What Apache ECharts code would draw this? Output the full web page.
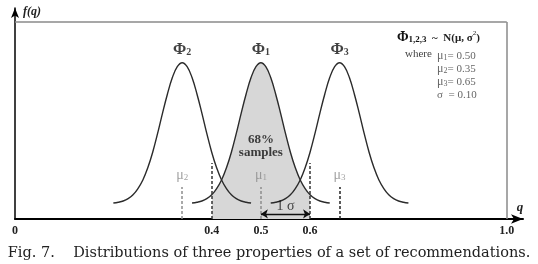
<!DOCTYPE html>
<html>
<head>
<meta charset="utf-8">
<script src="https://cdn.jsdelivr.net/npm/echarts@6/dist/echarts.min.js"></script>
<style>
  html, body { margin: 0; padding: 0; background: #fff; }
  #chart { width: 538px; height: 264px; }
</style>
</head>
<body>
<div id="chart"></div>
<script>
  // curves: q on the x axis, f(q) in the figure's own units (peak ~ 4)
  const phi2Q = [0.20, 0.21, 0.22, 0.23, 0.24, 0.25, 0.26, 0.27, 0.28, 0.29, 0.30, 0.31, 0.32, 0.33, 0.34,
                 0.35, 0.36, 0.37, 0.38, 0.39, 0.40, 0.41, 0.42, 0.43, 0.44, 0.45, 0.46, 0.47, 0.48]
  const phi2F = [0.41, 0.43, 0.46, 0.52, 0.62, 0.78, 1.00, 1.31, 1.71, 2.19, 2.71, 3.20, 3.62, 3.90, 4.00,
                 3.90, 3.62, 3.20, 2.71, 2.19, 1.71, 1.31, 1.00, 0.78, 0.62, 0.52, 0.46, 0.43, 0.41]
  const phi1Q = [0.36, 0.37, 0.38, 0.39, 0.40, 0.41, 0.42, 0.43, 0.44, 0.45, 0.46, 0.47, 0.48, 0.49, 0.50,
                 0.51, 0.52, 0.53, 0.54, 0.55, 0.56, 0.57, 0.58, 0.59, 0.60, 0.61, 0.62, 0.63, 0.64]
  const phi1F = [0.41, 0.43, 0.46, 0.52, 0.62, 0.78, 1.00, 1.31, 1.71, 2.19, 2.71, 3.20, 3.62, 3.90, 4.00,
                 3.90, 3.62, 3.20, 2.71, 2.19, 1.71, 1.31, 1.00, 0.78, 0.62, 0.52, 0.46, 0.43, 0.41]
  const phi3Q = [0.52, 0.53, 0.54, 0.55, 0.56, 0.57, 0.58, 0.59, 0.60, 0.61, 0.62, 0.63, 0.64, 0.65, 0.66,
                 0.67, 0.68, 0.69, 0.70, 0.71, 0.72, 0.73, 0.74, 0.75, 0.76, 0.77, 0.78, 0.79, 0.80]
  const phi3F = [0.41, 0.43, 0.46, 0.52, 0.62, 0.78, 1.00, 1.31, 1.71, 2.19, 2.71, 3.20, 3.62, 3.90, 4.00,
                 3.90, 3.62, 3.20, 2.71, 2.19, 1.71, 1.31, 1.00, 0.78, 0.62, 0.52, 0.46, 0.43, 0.41]

  // dashed guides
  const sigmaQ = [0.4, 0.6]      // edges of the shaded 68% band
  const sigmaTop = 1.43
  const muQ = [0.34, 0.50, 0.66] // mu2, mu1, mu3
  const muTop = 0.82
  const muDark = [false, false, true]

  const tickValues = [0, 0.4, 0.5, 0.6, 1.0]
  const tickText = ['0', '0.4', '0.5', '0.6', '1.0']

  const frameTop = 5.04
  const SERIF = '"Liberation Serif", "DejaVu Serif", serif'

  const pairs = (xs, ys) => xs.map((x, i) => [x, ys[i]])

  const curve = (name, q, f, extra) => Object.assign({
    name: name,
    type: 'line',
    data: pairs(q, f),
    smooth: 0.4,
    symbol: 'none',
    lineStyle: { color: '#2b2b2b', width: 1.4 },
    silent: true,
    z: 3
  }, extra)

  const chart = echarts.init(document.getElementById('chart'), null, { renderer: 'canvas' })

  chart.setOption({
    animation: false,
    backgroundColor: '#fff',
    title: {
      text: 'Fig. 7.    Distributions of three properties of a set of recommendations.',
      left: 'center',
      top: 241,
      textStyle: { fontFamily: '"DejaVu Serif", serif', fontWeight: 'normal', fontSize: 14.5, color: '#222' }
    },
    grid: { left: 15, right: 15, top: 8, bottom: 45 },
    xAxis: {
      type: 'value',
      min: 0,
      max: 1.033,
      interval: 0.1,
      splitLine: { show: false },
      axisTick: { show: false },
      axisLine: {
        lineStyle: { color: '#000', width: 2 },
        symbol: ['none', 'arrow'],
        symbolSize: [7, 12]
      },
      axisLabel: {
        margin: 6,
        fontFamily: SERIF,
        fontWeight: 'bold',
        fontSize: 12,
        color: '#222',
        formatter: function (v) {
          const i = tickValues.findIndex(t => Math.abs(t - v) < 1e-6)
          return i < 0 ? '' : tickText[i]
        }
      },
      name: 'q',
      nameLocation: 'end',
      nameGap: -3,
      nameTextStyle: {
        fontFamily: SERIF, fontStyle: 'italic', fontWeight: 'bold', fontSize: 13, color: '#222',
        align: 'center', verticalAlign: 'bottom', padding: [0, 0, 5, 0]
      }
    },
    yAxis: {
      type: 'value',
      min: 0,
      max: 5.4,
      splitLine: { show: false },
      axisTick: { show: false },
      axisLabel: { show: false },
      axisLine: {
        lineStyle: { color: '#000', width: 1.5 },
        symbol: ['none', 'arrow'],
        symbolSize: [6, 10]
      },
      name: 'f(q)',
      nameLocation: 'end',
      nameGap: -4,
      nameTextStyle: {
        fontFamily: SERIF, fontStyle: 'italic', fontWeight: 'bold', fontSize: 12, color: '#222',
        align: 'left', verticalAlign: 'middle', padding: [0, 0, 0, 8]
      }
    },
    visualMap: {
      type: 'piecewise',
      show: false,
      dimension: 0,
      seriesIndex: 0,
      pieces: [{ gte: sigmaQ[0], lte: sigmaQ[1], color: '#d7d7d7' }],
      outOfRange: { color: 'rgba(255,255,255,0)' }
    },
    series: [
      curve('Φ1', phi1Q, phi1F, { areaStyle: { opacity: 1 }, z: 2 }),
      curve('Φ2', phi2Q, phi2F),
      curve('Φ3', phi3Q, phi3F),
      {
        // frame (top and right edges)
        type: 'lines',
        coordinateSystem: 'cartesian2d',
        silent: true,
        lineStyle: { color: '#8a8a8a', width: 1.5, opacity: 1 },
        data: [
          { coords: [[0, frameTop], [1.0, frameTop]] },
          { coords: [[1.0, frameTop], [1.0, 0]] }
        ],
        z: 1
      },
      {
        // dashed guides at 0.4 / 0.6 and at the means
        type: 'lines',
        coordinateSystem: 'cartesian2d',
        silent: true,
        lineStyle: { width: 1.5, type: [3, 2], opacity: 1 },
        data: sigmaQ.map(q => ({ coords: [[q, 0], [q, sigmaTop]], lineStyle: { color: '#333' } }))
          .concat(muQ.map((q, i) => ({
            coords: [[q, 0], [q, muTop]],
            lineStyle: { color: muDark[i] ? '#222' : '#8c8c8c' }
          }))),
        z: 4
      },
      {
        // 1 sigma arrow
        type: 'lines',
        coordinateSystem: 'cartesian2d',
        silent: true,
        symbol: ['arrow', 'arrow'],
        symbolSize: 7,
        lineStyle: { color: '#111', width: 1.3, opacity: 1 },
        data: [{ coords: [[muQ[1], 0.13], [sigmaQ[1], 0.13]] }],
        z: 5
      },
      {
        // text labels placed in data space
        type: 'scatter',
        symbolSize: 0,
        silent: true,
        z: 6,
        label: { show: true, position: 'inside', fontFamily: SERIF, color: '#111' },
        data: [
          { value: [muQ[0], 4.33], label: { formatter: '{a|Φ}{s|2}' } },
          { value: [muQ[1], 4.33], label: { formatter: '{a|Φ}{s|1}' } },
          { value: [muQ[2], 4.33], label: { formatter: '{a|Φ}{s|3}' } },
          { value: [muQ[0], 1.12], label: { formatter: '{m|μ}{n|2}' } },
          { value: [muQ[1], 1.12], label: { formatter: '{m|μ}{n|1}' } },
          { value: [muQ[2], 1.12], label: { formatter: '{m|μ}{n|3}' } },
          { value: [muQ[1], 1.87], label: { formatter: '68%\nsamples', fontWeight: 'bold', fontSize: 13, lineHeight: 13 } },
          { value: [0.55, 0.33], label: { formatter: '1 σ', fontSize: 14 } }
        ],
        labelLayout: { hideOverlap: false }
      }
    ].map(s => {
      if (s.type === 'scatter') {
        s.label.rich = {
          a: { fontFamily: SERIF, fontSize: 16, fontWeight: 'bold', color: '#111', verticalAlign: 'bottom' },
          s: { fontFamily: SERIF, fontSize: 10, fontWeight: 'bold', color: '#111', verticalAlign: 'bottom' },
          m: { fontFamily: SERIF, fontSize: 14, color: '#8a8a8a', verticalAlign: 'bottom' },
          n: { fontFamily: SERIF, fontSize: 9, color: '#8a8a8a', verticalAlign: 'bottom' }
        }
      }
      return s
    }),
    graphic: [
      {
        type: 'text', x: 397, y: 30,
        style: {
          text: '{a|Φ}{s|1,2,3}{b|  ~  N(μ, σ}{u|2}{b|)}',
          rich: {
            a: { fontFamily: SERIF, fontSize: 14, fontWeight: 'bold', fill: '#111', verticalAlign: 'bottom' },
            s: { fontFamily: SERIF, fontSize: 9, fontWeight: 'bold', fill: '#111', verticalAlign: 'bottom' },
            b: { fontFamily: SERIF, fontSize: 11, fontWeight: 'bold', fill: '#222', verticalAlign: 'bottom' },
            u: { fontFamily: SERIF, fontSize: 7, fill: '#222', verticalAlign: 'top' }
          }
        }
      },
      {
        type: 'text', x: 405, y: 49,
        style: { text: 'where', font: '11px ' + SERIF, fill: '#444' }
      },
      {
        type: 'text', x: 437, y: 49,
        style: {
          text: '{m|μ}{n|1}{v|= 0.50}\n{m|μ}{n|2}{v|= 0.35}\n{m|μ}{n|3}{v|= 0.65}\n{v|σ  = 0.10}',
          rich: {
            m: { fontFamily: SERIF, fontSize: 12, fill: '#666', lineHeight: 13, verticalAlign: 'bottom' },
            n: { fontFamily: SERIF, fontSize: 8, fill: '#666', lineHeight: 13, verticalAlign: 'bottom' },
            v: { fontFamily: SERIF, fontSize: 11, fill: '#666', lineHeight: 13, verticalAlign: 'bottom' }
          }
        }
      }
    ]
  })
</script>
</body>
</html>
